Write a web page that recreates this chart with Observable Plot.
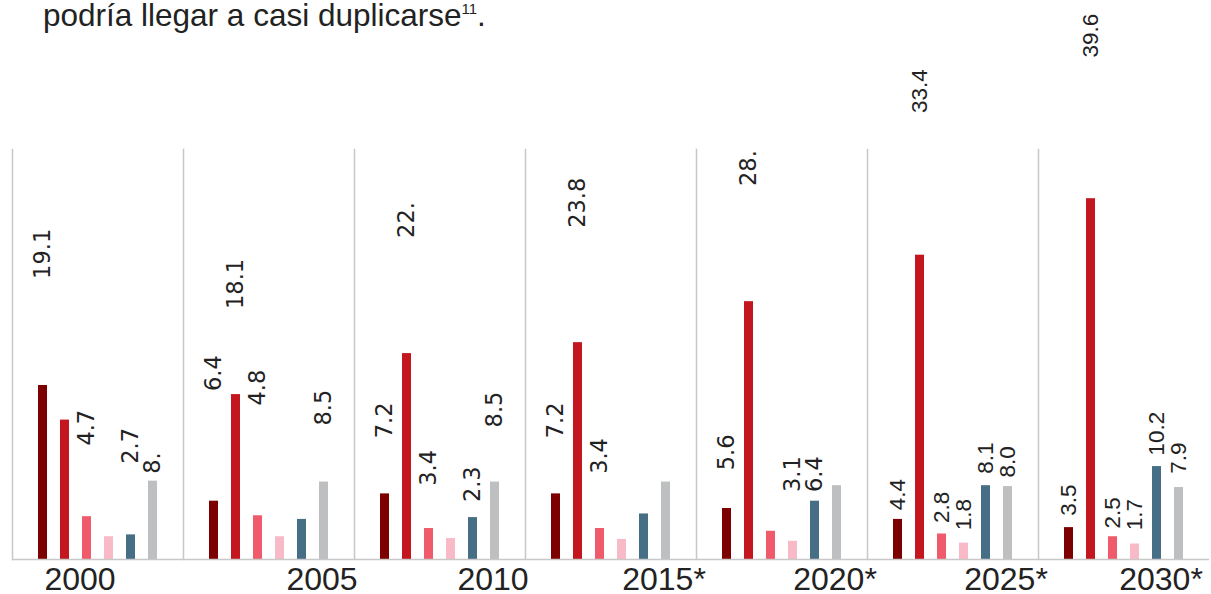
<!DOCTYPE html>
<html>
<head>
<meta charset="utf-8">
<script src="https://cdn.jsdelivr.net/npm/d3@7"></script>
<script src="https://cdn.jsdelivr.net/npm/@observablehq/plot@0.6"></script>
<style>
  html, body { margin: 0; padding: 0; background: #fff; }
  #wrap { position: relative; width: 1211px; height: 594px; overflow: hidden; }
  #title { position: absolute; left: 43px; top: 0px; font-family: "Liberation Sans", Arial, sans-serif; font-size: 31.5px; line-height: 30px; color: #222; white-space: nowrap; z-index: 2; }
  #title .sup { font-size: 15px; position: relative; top: -12px; }
  #chart { position: absolute; left: 0; top: 0; }
</style>
</head>
<body>
<div id="wrap">
  <div id="title">podría llegar a casi duplicarse<span class="sup">11</span>.</div>
  <div id="chart"></div>
</div>
<script>
// Periods (x facets) and the six series within each period
const years = ["2000", "2005", "2010", "2015*", "2020*", "2025*", "2030*"];
const series = ["s1", "s2", "s3", "s4", "s5", "s6"];
const colors = ["#7c0000", "#c4161f", "#f05b6b", "#f9bac7", "#466f86", "#bebfc1"];

// Bar values per series, one value per period
const s1 = [19.1, 6.4, 7.2, 7.2, 5.6, 4.4, 3.5];
const s2 = [15.3, 18.1, 22.6, 23.8, 28.3, 33.4, 39.6];
const s3 = [4.7, 4.8, 3.4, 3.4, 3.1, 2.8, 2.5];
const s4 = [2.5, 2.5, 2.3, 2.2, 2.0, 1.8, 1.7];
const s5 = [2.7, 4.4, 4.6, 5.0, 6.4, 8.1, 10.2];
const s6 = [8.6, 8.5, 8.5, 8.5, 8.1, 8.0, 7.9];

// Value labels as printed in the picture: period, series it sits over, text, height (data units) where it stands
const labelYear   = ["2000","2000","2000","2000", "2005","2005","2005","2005", "2010","2010","2010","2010","2010", "2015*","2015*","2015*", "2020*","2020*","2020*","2020*", "2025*","2025*","2025*","2025*","2025*","2025*", "2030*","2030*","2030*","2030*","2030*","2030*"];
const labelSeries = ["s1","s3","s5","s6", "s1","s2","s3","s6", "s1","s2","s3","s5","s6", "s1","s2","s3", "s1","s2","s4","s5", "s1","s2","s3","s4","s5","s6", "s1","s2","s3","s4","s5","s6"];
const labelText   = ["19.1","4.7","2.7","8.", "6.4","18.1","4.8","8.5", "7.2","22.","3.4","2.3","8.5", "7.2","23.8","3.4", "5.6","28.","3.1","6.4", "4.4","33.4","2.8","1.8","8.1","8.0", "3.5","39.6","2.5","1.7","10.2","7.9"];
const labelAt     = [30.8,12.5,10.5,9.4, 18.5,27.5,16.9,14.7, 13.3,35.3,8.1,6.3,14.5, 13.3,36.4,9.4, 9.8,41.0,7.4,7.4, 5.4,49.0,4.0,3.2,9.4,9.0, 4.8,55.1,3.4,3.2,11.4,9.4];

const seriesValues = [s1, s2, s3, s4, s5, s6];
const bars = [];
years.forEach((yr, i) => series.forEach((s, j) => bars.push({year: yr, series: s, value: seriesValues[j][i]})));
const labels = labelText.map((t, i) => ({year: labelYear[i], series: labelSeries[i], text: t, at: labelAt[i]}));
const latin = new Set(["2025*", "2030*"]);

const tickStyle = {fx: d => d, text: d => d, frameAnchor: "bottom", lineAnchor: "top", dy: 8, fontSize: 32, fontFamily: "Liberation Sans", fill: "#222"};

const chart = Plot.plot({
  width: 1211,
  height: 594,
  marginTop: 149,
  marginBottom: 35,
  marginLeft: 10,
  marginRight: 0,
  fx: {domain: years, paddingInner: 0, paddingOuter: 0, axis: null, label: null},
  x: {domain: series, paddingInner: 0.6, paddingOuter: 1.13, axis: null, label: null},
  y: {domain: [0, 45], axis: null, label: null},
  color: {domain: series, range: colors},
  style: {background: "transparent", overflow: "visible"},
  marks: [
    Plot.frame({anchor: "left", stroke: "#c8c8c8", strokeWidth: 1.5}),
    Plot.barY(bars, {fx: "year", x: "series", y: "value", fill: "series"}),
    Plot.ruleY([0], {stroke: "#c8c8c8", strokeWidth: 1.5}),
    Plot.text(labels.filter(d => !latin.has(d.year)), {fx: "year", x: "series", y: "at", text: "text", rotate: -90, textAnchor: "start", fontSize: 22.5, fontFamily: "DejaVu Sans", fill: "#222"}),
    Plot.text(labels.filter(d => latin.has(d.year)), {fx: "year", x: "series", y: "at", text: "text", rotate: -90, textAnchor: "start", fontSize: 22.5, fontFamily: "Liberation Sans", fill: "#222"}),
    Plot.text(years.filter(d => d === "2000"), {...tickStyle, dx: -18}),
    Plot.text(years.filter(d => d !== "2000" && d !== "2030*"), {...tickStyle, dx: 53}),
    Plot.text(years.filter(d => d === "2030*"), {...tickStyle, dx: 37})
  ]
});
document.getElementById("chart").appendChild(chart);
</script>
</body>
</html>
